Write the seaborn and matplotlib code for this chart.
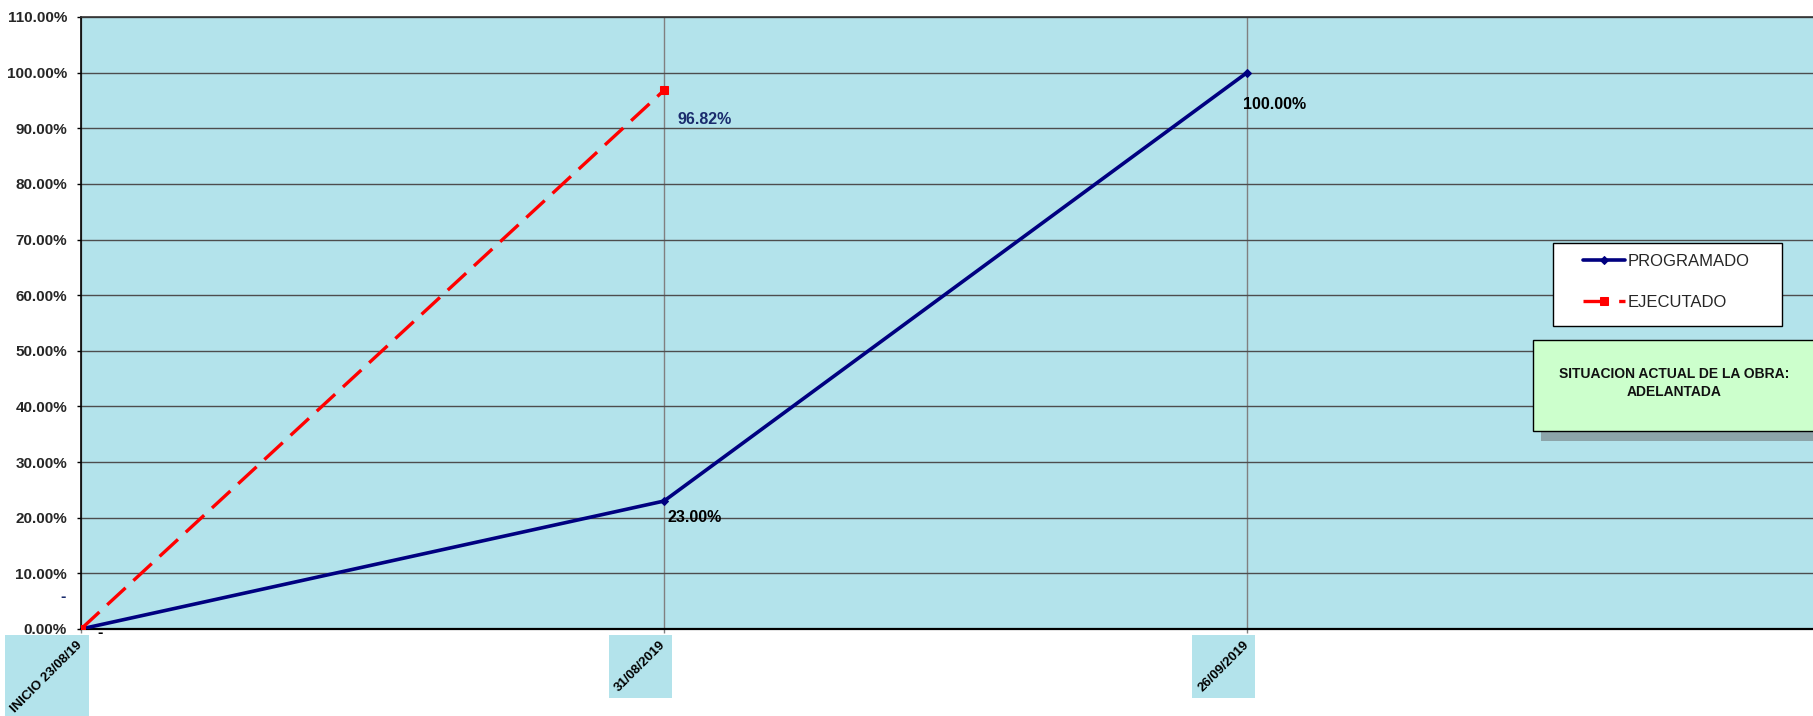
import numpy as np
import pandas as pd
import matplotlib
matplotlib.use("Agg")
import matplotlib.pyplot as plt
from matplotlib.patches import Rectangle
import seaborn as sns

# ---- data -------------------------------------------------------------
fechas = ["INICIO 23/08/19", "31/08/2019", "26/09/2019"]
programado = [0.0, 0.23, 1.00]
ejecutado = [0.0, 0.9682]
eje_y = [0.0, 0.1, 0.2, 0.3, 0.4, 0.5, 0.6, 0.7, 0.8, 0.9, 1.0, 1.1]
situacion = "SITUACION ACTUAL DE LA OBRA:\nADELANTADA"

# ---- style ------------------------------------------------------------
sns.set_style("white")
plt.rcParams["font.family"] = ["Liberation Sans", "DejaVu Sans"]

NAVY = "#000080"
RED = "#ff0000"
LABEL_NAVY = "#1a2b6d"
BG = "#b3e3eb"

W, H, DPI = 1813, 716, 100
fig = plt.figure(figsize=(W / DPI, H / DPI), dpi=DPI)
fig.patch.set_facecolor("white")

# axes rectangle in pixel units of the figure
ax_left, ax_right, ax_top, ax_bottom = 81, 1813, 17, 629
ax = fig.add_axes([ax_left / W, 1 - ax_bottom / H,
                   (ax_right - ax_left) / W, (ax_bottom - ax_top) / H])
ax.set_facecolor(BG)

df_prog = pd.DataFrame({"pos": np.arange(len(programado)), "valor": programado})
df_ejec = pd.DataFrame({"pos": np.arange(len(ejecutado)), "valor": ejecutado})

sns.lineplot(data=df_prog, x="pos", y="valor", ax=ax, color=NAVY, lw=2.6,
             marker="D", markersize=4.5, markeredgecolor=NAVY,
             label="PROGRAMADO", zorder=4, sort=False)
sns.lineplot(data=df_ejec, x="pos", y="valor", ax=ax, color=RED, lw=2.4,
             linestyle=(0, (7.5, 3.2)), marker="s", markersize=5.5,
             markeredgecolor=RED, label="EJECUTADO", zorder=5, sort=False)
handles, labels = ax.get_legend_handles_labels()
if ax.get_legend() is not None:
    ax.get_legend().remove()

# ---- axes -------------------------------------------------------------
ax.set_ylim(0, 1.10)
ax.set_xlim(0, (ax_right - ax_left) / 583.0)
ax.set_yticks(eje_y, labels=[f"{v * 100:.2f}%" for v in eje_y],
              fontsize=11, fontweight="bold")
ax.set_xticks(np.arange(len(fechas)), labels=[""] * len(fechas))
ax.set_xlabel("")
ax.set_ylabel("")
ax.tick_params(axis="y", direction="out", length=3, width=1, color="black",
               pad=7, left=True)
ax.tick_params(axis="x", direction="out", length=3, width=1, color="#808080",
               bottom=True)

# date labels, rotated, just under each category tick
fecha_txt = []
for i, f in enumerate(fechas):
    t = ax.annotate(f, (i, 0), xycoords=("data", "axes fraction"),
                    xytext=(4, -10), textcoords="offset pixels",
                    rotation=45, ha="right", va="top", fontsize=9.5,
                    fontweight="bold", color="black", annotation_clip=False)
    fecha_txt.append(t)

ax.grid(axis="y", color="#4d4d4d", lw=1.0)
ax.grid(axis="x", color="#808080", lw=1.0)
ax.set_axisbelow(True)

for side in ("left", "bottom", "top"):
    ax.spines[side].set_visible(True)
    ax.spines[side].set_color("black")
ax.spines["left"].set_linewidth(1.2)
ax.spines["bottom"].set_linewidth(1.6)
ax.spines["top"].set_linewidth(1.2)
ax.spines["top"].set_color("#333333")
ax.spines["right"].set_visible(False)


# ---- data labels --------------------------------------------------------
def fmt(v):
    return "-" if v == 0 else f"{v * 100:.2f}%"


prog_offsets = [(19, -3, "center"), (3, -16, "left"), (-4, -32, "left")]
ejec_offsets = [(-18, 32, "center"), (14, -29, "left")]

for i, v in enumerate(programado):
    dx, dy, ha = prog_offsets[i]
    ax.annotate(fmt(v), (i, v), xytext=(dx, dy), textcoords="offset pixels",
                ha=ha, va="center", fontsize=11.5, fontweight="bold",
                color="black", zorder=6, annotation_clip=False)
for i, v in enumerate(ejecutado):
    dx, dy, ha = ejec_offsets[i]
    ax.annotate(fmt(v), (i, v), xytext=(dx, dy), textcoords="offset pixels",
                ha=ha, va="center", fontsize=11.5, fontweight="bold",
                color=LABEL_NAVY, zorder=6, annotation_clip=False)

# ---- legend -------------------------------------------------------------
leg_box = (1553, 243, 1782, 326)  # x0, y0, x1, y1 in pixels from top-left
fig.patches.append(Rectangle((leg_box[0] / W, 1 - leg_box[3] / H),
                             (leg_box[2] - leg_box[0]) / W,
                             (leg_box[3] - leg_box[1]) / H,
                             transform=fig.transFigure, facecolor="white",
                             edgecolor="black", lw=1.0, zorder=2))
leg = fig.legend(handles, labels, loc="upper left",
                 bbox_to_anchor=(1583 / W, 1 - 254 / H),
                 frameon=False, fontsize=12, handlelength=2.5,
                 handletextpad=0.15, labelspacing=1.55, borderpad=0.0,
                 borderaxespad=0.0)
leg.set_zorder(3)

# ---- status box ---------------------------------------------------------
sb = (1533, 340, 1830, 431)
fig.patches.append(Rectangle(((sb[0] + 8) / W, 1 - (sb[3] + 10) / H),
                             (sb[2] - sb[0]) / W, (sb[3] - sb[1]) / H,
                             transform=fig.transFigure, facecolor="#7f8f93",
                             edgecolor="none", alpha=0.75, zorder=2))
fig.patches.append(Rectangle((sb[0] / W, 1 - sb[3] / H),
                             (sb[2] - sb[0]) / W, (sb[3] - sb[1]) / H,
                             transform=fig.transFigure, facecolor="#ccffcc",
                             edgecolor="black", lw=1.0, zorder=2.5))
fig.text(1674 / W, 1 - 383 / H, situacion, ha="center", va="center",
         fontsize=10, fontweight="bold", color="#111111", linespacing=1.45,
         zorder=3)

# ---- shaded boxes behind the date labels --------------------------------
fig.canvas.draw()
renderer = fig.canvas.get_renderer()
for t in fecha_txt:
    bb = t.get_window_extent(renderer)
    pad = 4
    x0, y0 = bb.x0 - pad, bb.y0 - pad
    w, h = bb.width + 2 * pad, bb.height + 2 * pad
    fig.patches.append(Rectangle((x0 / W, y0 / H), w / W, h / H,
                                 transform=fig.transFigure, facecolor=BG,
                                 edgecolor="none", zorder=-1))

fig.savefig("out.png", dpi=DPI, facecolor="white")
